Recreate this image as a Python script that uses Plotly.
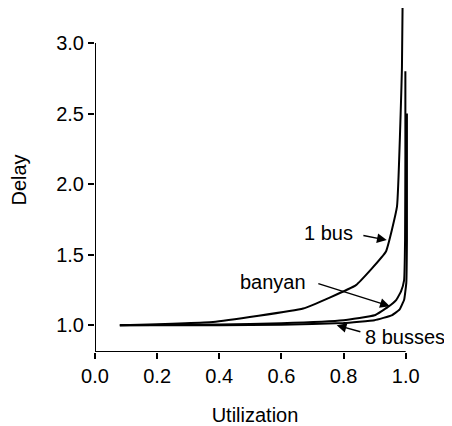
import plotly.graph_objects as go

# Data
bus1_x = [0.08, 0.38, 0.67, 0.84, 0.936, 0.972, 0.988, 0.990]
bus1_y = [1.00, 1.023, 1.118, 1.284, 1.52, 1.84, 2.83, 3.26]

banyan_x = [0.08, 0.40, 0.60, 0.80, 0.90, 0.942, 0.97, 0.985, 0.995, 0.998, 0.999, 0.999]
banyan_y = [1.00, 1.005, 1.014, 1.035, 1.07, 1.128, 1.18, 1.24, 1.32, 1.60, 2.20, 2.80]

bus8_x = [0.08, 0.40, 0.60, 0.80, 0.90, 0.955, 0.98, 0.995, 1.002, 1.004, 1.004]
bus8_y = [1.00, 1.000, 1.004, 1.015, 1.035, 1.07, 1.11, 1.18, 1.30, 1.60, 2.50]

x_ticks = [0.0, 0.2, 0.4, 0.6, 0.8, 1.0]
y_ticks = [1.0, 1.5, 2.0, 2.5, 3.0]

FONT = "Liberation Sans, Arial, sans-serif"

fig = go.Figure()
for xs, ys, name in [(bus1_x, bus1_y, "1 bus"), (banyan_x, banyan_y, "banyan"), (bus8_x, bus8_y, "8 busses")]:
    fig.add_trace(go.Scatter(x=xs, y=ys, mode="lines", name=name,
                             line=dict(color="black", width=2, shape="spline", smoothing=0.3),
                             showlegend=False))

# axis lines (left axis stops at 3.0)
fig.add_shape(type="line", xref="x", yref="y", x0=0, x1=0, y0=0.81, y1=3.0,
              line=dict(color="black", width=2))
fig.add_shape(type="line", xref="x", yref="y", x0=0, x1=1.0, y0=0.81, y1=0.81,
              line=dict(color="black", width=2))

labels = [
    ("1 bus", 0.752, 1.652, 0.859, 1.638, 0.939, 1.603),
    ("banyan", 0.572, 1.305, 0.714, 1.298, 0.949, 1.135),
    ("8 busses", 0.998, 0.915, 0.859, 0.95, 0.778, 1.0),
]
for txt, tx, ty, ax0, ay0, hx, hy in labels:
    fig.add_annotation(x=tx, y=ty, xref="x", yref="y", text=txt, showarrow=False,
                       font=dict(size=20, color="black", family=FONT))
    fig.add_annotation(x=hx, y=hy, ax=ax0, ay=ay0, xref="x", yref="y", axref="x", ayref="y",
                       text="", showarrow=True, arrowhead=2, arrowsize=1.3, arrowwidth=1.5,
                       arrowcolor="black")

fig.update_xaxes(range=[0, 1.03], tickvals=x_ticks, tickformat=".1f", ticks="outside",
                 ticklen=6, tickwidth=2, tickcolor="black", showgrid=False, zeroline=False,
                 showline=False, automargin=False, tickfont=dict(size=20, color="black", family=FONT),
                 title=dict(text="Utilization", font=dict(size=20, color="black", family=FONT), standoff=23))
fig.update_yaxes(range=[0.81, 3.248], tickvals=y_ticks, tickformat=".1f", ticks="outside",
                 ticklen=6, tickwidth=2, tickcolor="black", showgrid=False, zeroline=False,
                 showline=False, automargin=False, tickfont=dict(size=20, color="black", family=FONT),
                 title=dict(text="Delay", font=dict(size=20, color="black", family=FONT), standoff=31))

fig.update_layout(width=444, height=418, margin=dict(l=87, r=37, t=0, b=74),
                  plot_bgcolor="white", paper_bgcolor="white")

fig.write_html("out.html")
